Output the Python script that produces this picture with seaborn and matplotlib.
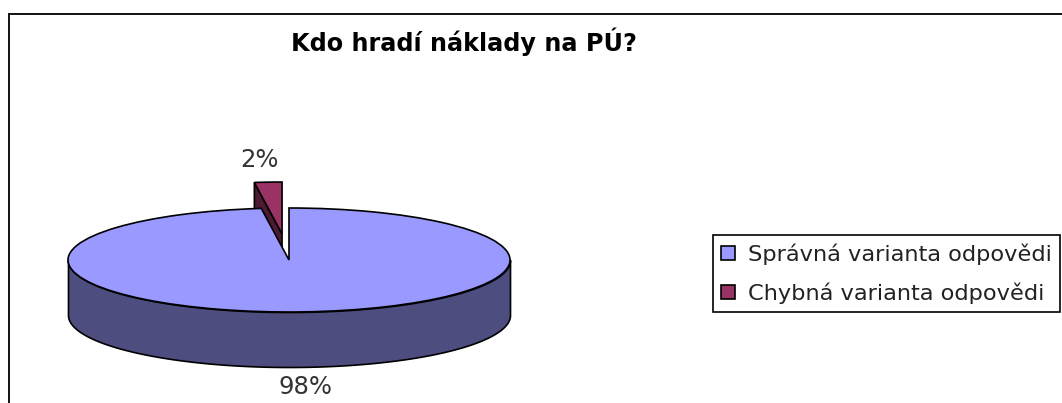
import numpy as np
import matplotlib
matplotlib.use("Agg")
import matplotlib.pyplot as plt
import seaborn as sns

title = "Kdo hradí náklady na PÚ?"
categories = ["Správná varianta odpovědi", "Chybná varianta odpovědi"]
values = [98, 2]
top_colors = ["#9999FF", "#993366"]
side_colors = ["#4D4D80", "#4D1A33"]

sns.set_theme(style="white")
plt.rcParams["font.family"] = ["DejaVu Sans"]

W, H = 1062, 403
fig = plt.figure(figsize=(W / 100, H / 100), dpi=100, facecolor="white")
left, top = 9, 14
ax = fig.add_axes([left / W, 0, (W - left) / W, (H - top) / H])

cx, cy, rx, ry, depth = 289, 260, 221, 52, 55
explode = [0, 0.5]
wedges, _ = ax.pie(values, colors=top_colors, startangle=90, counterclock=False,
                   explode=explode, radius=1,
                   wedgeprops=dict(edgecolor="black", linewidth=1.2))
wedges[0].set_zorder(5)
wedges[1].set_zorder(3)
ax.set_aspect("auto")
ax.set_xlim((left - cx) / rx, (W - cx) / rx)
ax.set_ylim((cy - H) / ry, (cy - top) / ry)
d = depth / ry

# Front wall of the large slice
theta = np.radians(np.linspace(180, 360, 300))
ax.fill_between(np.cos(theta), np.sin(theta), np.sin(theta) - d,
                facecolor=side_colors[0], edgecolor="black", linewidth=1.2, zorder=2)

# Cut face of the exploded slice
ang = np.radians(90 + 360 * values[1] / sum(values))
mid = np.radians(90 + 180 * values[1] / sum(values))
ox, oy = explode[1] * np.cos(mid), explode[1] * np.sin(mid)
ex, ey = ox + np.cos(ang), oy + np.sin(ang)
ax.fill([ox, ex, ex, ox], [oy, ey, ey - d, oy - d],
        facecolor=side_colors[1], edgecolor="black", linewidth=1.2, zorder=1)

# Percentage labels
ax.text((260 - cx) / rx, (cy - 160) / ry, f"{values[1]}%", ha="center", va="center",
        fontsize=17.5, color="#333333", zorder=6)
ax.text((306 - cx) / rx, (cy - 387) / ry, f"{values[0]}%", ha="center", va="center",
        fontsize=17.5, color="#333333", zorder=6)

for s in ["right", "bottom"]:
    ax.spines[s].set_visible(False)
ax.set_frame_on(True)
for s in ["left", "top"]:
    ax.spines[s].set_visible(True)
    ax.spines[s].set_color("#111111")
    ax.spines[s].set_linewidth(1.4)
ax.patch.set_visible(False)

fig.text(464 / W, 1 - 42 / H, title, ha="center", va="center",
         fontsize=17.2, fontweight="bold", color="black")

leg = ax.legend(wedges, categories, loc="center left",
                bbox_to_anchor=(713 / W, 1 - 273.5 / H), bbox_transform=fig.transFigure,
                fontsize=16.2, frameon=True, fancybox=False, edgecolor="black", framealpha=1,
                labelcolor="#222222",
                handlelength=0.62, handleheight=0.62, handletextpad=0.58,
                labelspacing=0.78, borderpad=0.35, borderaxespad=0)
leg.get_frame().set_linewidth(1.2)
leg.set_zorder(10)

fig.savefig("out.png", dpi=100)
